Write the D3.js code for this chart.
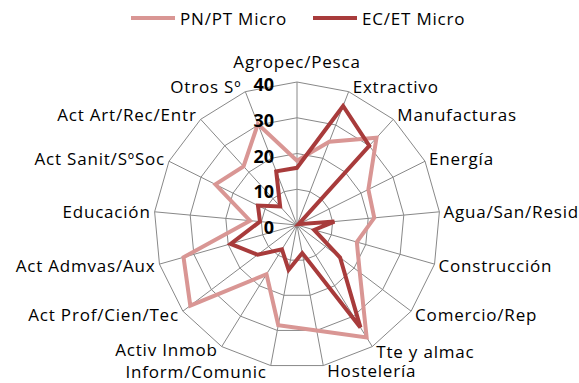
<!DOCTYPE html>
<html>
<head>
<meta charset="utf-8">
<script src="https://cdn.jsdelivr.net/npm/d3@7"></script>
<style>
  body { margin: 0; background: #fff; }
  text { font-family: "Open Sans", sans-serif; fill: #000; }
</style>
</head>
<body>
<svg id="chart" width="579" height="383"></svg>
<script>
const categories = ["Agropec/Pesca", "Extractivo", "Manufacturas", "Energía", "Agua/San/Resid",
  "Construcción", "Comercio/Rep", "Tte y almac", "Hostelería", "Inform/Comunic", "Activ Inmob",
  "Act Prof/Cien/Tec", "Act Admvas/Aux", "Educación", "Act Sanit/SºSoc", "Act Art/Rec/Entr", "Otros Sº"];
const pnptMicro = [18, 25, 33, 22.3, 21.7, 17.4, 22, 37, 30, 28.5, 16.2, 37.4, 33, 13.2, 25.5, 22.2, 30.3];
const ecetMicro = [16, 35.7, 30, 0.5, 10.5, 5, 15.1, 33.7, 8, 12.8, 8, 13.8, 19.3, 10.4, 12.2, 7, 16.1];
const seriesNames = ["PN/PT Micro", "EC/ET Micro"];
const tickValues = [0, 10, 20, 30, 40];

const colors = ["#d99694", "#a83b3b"];
const cx = 297, cy = 225, R = 143;

// small vertical nudges so the crowded bottom labels don't collide
const labelNudge = {"Hostelería": -1, "Inform/Comunic": 0.5, "Activ Inmob": -2.5};

const svg = d3.select("#chart");
const g = svg.append("g").attr("transform", `translate(${cx},${cy})`);

const r = d3.scaleLinear().domain([0, 40]).range([0, R]);
const angle = d3.scaleLinear().domain([0, categories.length]).range([0, 2 * Math.PI]);

const radial = d3.lineRadial()
  .angle((d, i) => angle(i))
  .radius(d => r(d))
  .curve(d3.curveLinearClosed);

// grid rings
g.selectAll(".ring")
  .data(tickValues.filter(t => t > 0))
  .join("path")
  .attr("class", "ring")
  .attr("d", t => radial(categories.map(() => t)))
  .attr("fill", "none")
  .attr("stroke", "#888")
  .attr("stroke-width", 1);

// spokes
g.selectAll(".spoke")
  .data(categories)
  .join("line")
  .attr("class", "spoke")
  .attr("x1", 0).attr("y1", 0)
  .attr("x2", (d, i) => r(40) * Math.sin(angle(i)))
  .attr("y2", (d, i) => -r(40) * Math.cos(angle(i)))
  .attr("stroke", "#888")
  .attr("stroke-width", 1);

// series
[pnptMicro, ecetMicro].forEach((vals, k) => {
  g.append("path")
    .attr("d", radial(vals))
    .attr("fill", "none")
    .attr("stroke", colors[k])
    .attr("stroke-width", 4)
    .attr("stroke-linejoin", "miter");
});

// tick labels
g.selectAll(".tick")
  .data(tickValues)
  .join("text")
  .attr("class", "tick")
  .attr("x", -23)
  .attr("y", t => -r(t) + 2)
  .attr("text-anchor", "end")
  .attr("dominant-baseline", "central")
  .attr("font-size", 18)
  .attr("font-weight", "bold")
  .text(t => t);

// category labels
g.selectAll(".cat")
  .data(categories)
  .join("text")
  .attr("class", "cat")
  .attr("font-size", 17)
  .attr("letter-spacing", 0.8)
  .attr("dominant-baseline", "central")
  .each(function(d, i) {
    const a = angle(i);
    const vx = r(40) * Math.sin(a), vy = -r(40) * Math.cos(a);
    const t = d3.select(this);
    if (i === 0) {
      t.attr("x", vx).attr("y", vy - 21).attr("text-anchor", "middle");
    } else {
      const side = Math.sin(a) > 0 ? 1 : -1;
      t.attr("x", vx + side * 4)
        .attr("y", vy - Math.cos(a) * 6 + (labelNudge[d] || 0))
        .attr("text-anchor", side > 0 ? "start" : "end");
    }
  })
  .text(d => d);

// legend
const legend = svg.append("g").attr("transform", "translate(0,18)");
const legendX = [131, 313];
seriesNames.forEach((name, k) => {
  legend.append("line")
    .attr("x1", legendX[k]).attr("x2", legendX[k] + 44)
    .attr("y1", 0).attr("y2", 0)
    .attr("stroke", colors[k])
    .attr("stroke-width", 4);
  legend.append("text")
    .attr("x", legendX[k] + 49)
    .attr("y", 0)
    .attr("dominant-baseline", "central")
    .attr("font-size", 17)
    .attr("letter-spacing", 0.8)
    .text(name);
});
</script>
</body>
</html>
